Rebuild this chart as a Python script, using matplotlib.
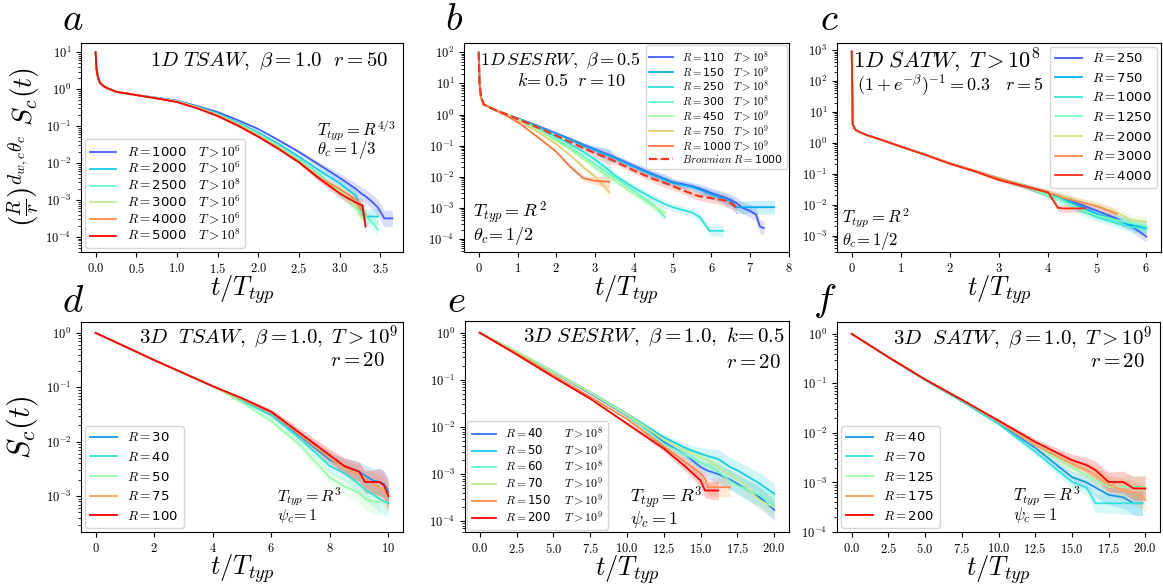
import numpy as np
import matplotlib
matplotlib.use("Agg")
import matplotlib.pyplot as plt
from matplotlib.ticker import FuncFormatter, LogLocator, MultipleLocator, NullFormatter

plt.rcParams['mathtext.fontset'] = 'cm'
plt.rcParams['font.family'] = ['DejaVu Sans']

nan = np.nan

# ------------------------------------------------------------
# DATA  (values are log10 S)
# ------------------------------------------------------------

# panel a : 1D TSAW
a_t = [0, 0.01, 0.03, 0.06, 0.12, 0.25, 0.5, 0.75, 1.0, 1.25, 1.5, 1.75, 2.0,
       2.25, 2.5, 2.75, 3.0, 3.1, 3.2, 3.28, 3.32, 3.4, 3.47, 3.55, 3.65]
a_R = [1000, 2000, 2500, 3000, 4000, 5000]
a_T = [6, 6, 8, 6, 6, 8]
a_logS = [
    [1.0, 0.55, 0.3, 0.15, 0.05, -0.07, -0.16, -0.23, -0.31, -0.46, -0.62, -0.84, -1.08,
     -1.38, -1.7, -2.05, -2.4, -2.55, -2.7, -2.85, -2.9, -3.05, -3.2, -3.5, -3.5],
    [1.0, 0.55, 0.3, 0.15, 0.05, -0.07, -0.16, -0.24, -0.32, -0.48, -0.66, -0.9, -1.17,
     -1.48, -1.83, -2.2, -2.55, -2.72, -2.88, -3.4, -3.45, -3.45, -3.45, nan, nan],
    [1.0, 0.55, 0.3, 0.15, 0.05, -0.07, -0.16, -0.24, -0.33, -0.49, -0.68, -0.93, -1.21,
     -1.53, -1.9, -2.3, -2.8, -2.95, -3.2, -3.35, -3.45, -3.6, -3.8, nan, nan],
    [1.0, 0.55, 0.3, 0.15, 0.05, -0.07, -0.16, -0.24, -0.33, -0.5, -0.7, -0.95, -1.25,
     -1.58, -1.95, -2.38, -2.75, -2.9, -3.2, -3.5, nan, nan, nan, nan, nan],
    [1.0, 0.55, 0.3, 0.15, 0.05, -0.07, -0.16, -0.25, -0.34, -0.51, -0.71, -0.97, -1.27,
     -1.6, -1.97, -2.4, -2.7, -2.85, -3.0, -3.3, -3.4, nan, nan, nan, nan],
    [1.0, 0.55, 0.3, 0.15, 0.05, -0.07, -0.16, -0.25, -0.35, -0.52, -0.73, -0.99, -1.29,
     -1.62, -1.98, -2.42, -2.82, -2.95, -3.07, -3.15, -3.72, nan, nan, nan, nan],
]
a_band = [0, 0, 0, 0, 0, 0, 0, 0, 0, 0, 0, 0.01, 0.02,
          0.03, 0.05, 0.08, 0.12, 0.14, 0.16, 0.18, 0.19, 0.2, 0.22, 0.22, 0.22]

# panel b : 1D SESRW
b_t = [0, 0.02, 0.06, 0.13, 0.4, 0.73, 1.07, 1.6, 2.0, 2.35, 2.7, 3.0, 3.37, 3.5, 4.0,
       4.5, 4.8, 5.0, 5.5, 5.7, 5.95, 6.3, 6.5, 6.65, 6.8, 7.0, 7.15, 7.25, 7.35, 7.62]
b_R = [110, 150, 250, 300, 450, 750, 1000]
b_T = [8, 9, 8, 8, 9, 9, 9]
b_logS = [
    [2.0, 1.0, 0.55, 0.32, 0.16, 0.0, -0.15, -0.4, -0.6, -0.78, -0.97, -1.12, -1.3, -1.37, -1.65,
     -1.92, -2.07, -2.17, -2.3, -2.38, -2.5, -2.65, -2.75, -2.85, -3.0, -3.1, -3.22, -3.6, -3.65, nan],
    [2.0, 1.0, 0.55, 0.32, 0.16, 0.0, -0.16, -0.42, -0.62, -0.8, -1.0, -1.15, -1.33, -1.4, -1.68,
     -1.95, -2.1, -2.2, -2.33, -2.42, -2.55, -2.7, -2.8, -2.98, -2.98, -2.98, -2.98, -2.98, -2.98, -2.98],
    [2.0, 1.0, 0.55, 0.32, 0.16, 0.0, -0.17, -0.48, -0.72, -0.95, -1.2, -1.45, -1.8, -1.95, -2.35,
     -2.7, -2.88, -2.98, -3.15, -3.3, -3.74, -3.74, nan, nan, nan, nan, nan, nan, nan, nan],
    [2.0, 1.0, 0.55, 0.32, 0.16, 0.0, -0.19, -0.52, -0.8, -1.05, -1.33, -1.6, -1.92, -2.02, -2.45,
     -2.9, -3.3, nan, nan, nan, nan, nan, nan, nan, nan, nan, nan, nan, nan, nan],
    [2.0, 1.0, 0.55, 0.32, 0.16, 0.0, -0.2, -0.55, -0.85, -1.12, -1.42, -1.7, -2.02, -2.12, -2.55,
     -2.95, -3.15, nan, nan, nan, nan, nan, nan, nan, nan, nan, nan, nan, nan, nan],
    [2.0, 1.0, 0.55, 0.32, 0.16, -0.02, -0.22, -0.62, -0.95, -1.3, -1.7, -2.0, -2.5, nan, nan,
     nan, nan, nan, nan, nan, nan, nan, nan, nan, nan, nan, nan, nan, nan, nan],
    [2.0, 1.0, 0.55, 0.32, 0.16, -0.05, -0.3, -0.8, -1.2, -1.67, -2.05, -2.13, -2.16, nan, nan,
     nan, nan, nan, nan, nan, nan, nan, nan, nan, nan, nan, nan, nan, nan, nan],
]
b_brown = [2.0, 1.0, 0.55, 0.32, 0.16, 0.0, -0.18, -0.46, -0.68, -0.88, -1.08, -1.24, -1.42, -1.5,
           -1.8, -2.07, -2.2, -2.3, -2.55, -2.63, -2.68, -2.75, -2.85, -3.0,
           nan, nan, nan, nan, nan, nan]
b_band = [0, 0, 0, 0, 0, 0, 0, 0.01, 0.03, 0.05, 0.08, 0.12, 0.2, 0.1, 0.1,
          0.12, 0.15, 0.12, 0.12, 0.14, 0.15, 0.18, 0.18, 0.2, 0.2, 0.2, 0.22, 0.22, 0.22, 0.22]

# panel c : 1D SATW
c_t = [0, 0.02, 0.07, 0.17, 0.31, 0.58, 1.0, 1.5, 2.0, 2.5, 3.0, 3.5, 4.0, 4.2, 4.3,
       4.75, 5.0, 5.4, 5.7, 6.0]
c_R = [250, 750, 1000, 1250, 2000, 3000, 4000]
c_logS = [
    [2.95, 0.6, 0.43, 0.34, 0.25, 0.11, -0.12, -0.38, -0.66, -0.9, -1.15, -1.38, -1.64, -1.72, -1.78,
     -2.05, -2.2, -2.45, -2.7, -3.03],
    [2.95, 0.6, 0.43, 0.34, 0.25, 0.11, -0.12, -0.38, -0.66, -0.9, -1.15, -1.38, -1.66, -1.76, -1.8,
     -2.12, -2.3, -2.5, -2.65, -2.75],
    [2.95, 0.6, 0.43, 0.34, 0.25, 0.11, -0.12, -0.38, -0.66, -0.9, -1.15, -1.38, -1.68, -1.78, -1.85,
     -2.25, -2.4, -2.6, -2.72, -2.8],
    [2.95, 0.6, 0.43, 0.34, 0.25, 0.11, -0.12, -0.38, -0.66, -0.9, -1.15, -1.38, -1.7, -1.8, -1.9,
     -2.2, -2.35, -2.5, -2.6, -2.7],
    [2.95, 0.6, 0.43, 0.34, 0.25, 0.11, -0.12, -0.38, -0.66, -0.9, -1.15, -1.38, -1.6, -1.68, -1.72,
     -1.95, -2.05, -2.25, -2.5, -2.55],
    [2.95, 0.6, 0.43, 0.34, 0.25, 0.11, -0.12, -0.38, -0.66, -0.9, -1.15, -1.38, -1.62, -1.7, -1.78,
     -1.95, -2.05, -2.3, nan, nan],
    [2.95, 0.6, 0.43, 0.34, 0.25, 0.11, -0.12, -0.39, -0.68, -0.92, -1.2, -1.4, -1.6, -2.1, -2.12,
     -2.12, nan, nan, nan, nan],
]
c_band = [0, 0, 0, 0, 0, 0, 0, 0, 0.01, 0.03, 0.05, 0.07, 0.1, 0.11, 0.12,
          0.13, 0.14, 0.15, 0.17, 0.18]

# panel d : 3D TSAW
d_t = [0, 1, 2, 3, 4, 5, 6, 7, 8, 8.5, 9, 9.2, 9.5, 9.7, 9.85, 10]
d_R = [30, 40, 50, 75, 100]
d_logS = [
    [0, -0.25, -0.5, -0.74, -0.98, -1.23, -1.48, -1.9, -2.33, -2.45, -2.55, -2.62, -2.72, -2.74, -2.78, -2.92],
    [0, -0.25, -0.5, -0.74, -0.98, -1.25, -1.52, -1.95, -2.45, -2.58, -2.78, -2.88, -2.98, -3.05, -3.1, -3.13],
    [0, -0.25, -0.5, -0.74, -0.98, -1.28, -1.62, -2.07, -2.66, -2.82, -2.94, -3.05, -3.1, -3.11, nan, nan],
    [0, -0.25, -0.5, -0.74, -0.98, -1.22, -1.47, -1.88, -2.3, -2.48, -2.62, -2.68, -2.78, -2.85, -2.9, -3.05],
    [0, -0.25, -0.5, -0.74, -0.98, -1.2, -1.45, -1.85, -2.25, -2.45, -2.55, -2.74, -2.74, -2.74, -2.8, -3.0],
]
d_band = [0, 0, 0, 0, 0, 0.02, 0.05, 0.08, 0.12, 0.15, 0.18, 0.2, 0.22, 0.25, 0.25, 0.25]

# panel e : 3D SESRW
e_t = [0, 2.5, 5, 7.5, 10, 12.5, 14, 15, 15.3, 15.5, 16.2, 17, 17.5, 19, 20]
e_R = [40, 50, 60, 70, 150, 200]
e_T = [8, 9, 8, 9, 9, 9]
e_logS = [
    [0, -0.41, -0.84, -1.29, -1.76, -2.32, -2.6, -2.85, -2.9, -2.93, -3.0, -3.12, -3.21, -3.49, -3.76],
    [0, -0.4, -0.82, -1.26, -1.72, -2.22, -2.45, -2.57, -2.6, -2.62, -2.68, -2.85, -2.92, -3.2, -3.42],
    [0, -0.4, -0.83, -1.27, -1.75, -2.36, -2.6, -2.75, -2.8, -2.82, -2.95, -3.15, -3.24, -3.45, -3.67],
    [0, -0.4, -0.83, -1.27, -1.73, -2.27, -2.5, -2.64, -2.68, -2.7, -2.85, -3.02, -3.1, -3.56, -3.7],
    [0, -0.44, -0.9, -1.36, -1.83, -2.41, -2.75, -2.99, -3.1, -3.28, -3.28, -3.28, nan, nan, nan],
    [0, -0.46, -0.94, -1.4, -1.93, -2.46, -2.85, -3.14, -3.35, -3.35, -3.35, nan, nan, nan, nan],
]
e_band = [0, 0, 0, 0.01, 0.03, 0.06, 0.1, 0.13, 0.15, 0.17, 0.2, 0.2, 0.2, 0.22, 0.22]

# panel f : 3D SATW
f_t = [0, 2.5, 5, 7.5, 10, 12.5, 15, 16, 16.6, 17.5, 18.5, 19.2, 19.8, 20]
f_R = [40, 70, 125, 175, 200]
f_logS = [
    [0, -0.47, -0.93, -1.35, -1.8, -2.3, -2.89, -3.0, -3.1, -3.25, -3.3, -3.42, -3.42, nan],
    [0, -0.47, -0.93, -1.36, -1.82, -2.38, -2.99, -3.1, -3.42, -3.42, -3.42, -3.42, -3.42, nan],
    [0, -0.47, -0.92, -1.33, -1.77, -2.25, -2.7, -2.85, -2.95, -3.09, -3.09, -3.09, -3.09, -3.09],
    [0, -0.47, -0.92, -1.33, -1.77, -2.25, -2.62, -2.75, -2.85, -3.05, -3.15, -3.2, -3.3, -3.35],
    [0, -0.47, -0.92, -1.33, -1.75, -2.18, -2.55, -2.65, -2.75, -2.99, -2.99, -3.12, -3.12, -3.12],
]
f_band = [0, 0, 0, 0.01, 0.03, 0.06, 0.12, 0.15, 0.18, 0.2, 0.22, 0.24, 0.25, 0.25]


# ------------------------------------------------------------
# HELPERS
# ------------------------------------------------------------

def draw_curves(ax, t, curves, band, cols, labels, **kw):
    t = np.asarray(t, dtype=float)
    band = np.asarray(band, dtype=float)
    for logS, col, lab in zip(curves, cols, labels):
        logS = np.asarray(logS, dtype=float)
        ok = ~np.isnan(logS)
        ax.fill_between(t[ok], 10 ** (logS[ok] - band[ok]), 10 ** (logS[ok] + band[ok]),
                        color=col, alpha=0.2, lw=0)
        ax.plot(t[ok], 10 ** logS[ok], color=col, lw=1.3, label=lab, **kw)


def style_axes(ax, xlim, ylog, xstep, xfmt):
    ax.set_yscale('log')
    ax.set_xlim(*xlim)
    ax.set_ylim(10 ** ylog[0], 10 ** ylog[1])
    ax.yaxis.set_major_locator(LogLocator(base=10, numticks=30))
    ax.yaxis.set_minor_locator(LogLocator(base=10, subs=np.arange(2, 10), numticks=30))
    ax.yaxis.set_minor_formatter(NullFormatter())
    ax.yaxis.set_major_formatter(FuncFormatter(
        lambda v, p: r'$10^{%d}$' % int(round(np.log10(v)))))
    ax.xaxis.set_major_locator(MultipleLocator(xstep))
    ax.xaxis.set_major_formatter(FuncFormatter(lambda v, p: '$' + xfmt % v + '$'))
    ax.tick_params(labelsize=9)
    ax.set_xlabel(r'$t/T_{typ}$', fontsize=19, labelpad=-2)


def px_axes(fig, x, y, w, h):
    W, H = 1163, 587
    return fig.add_axes([x / W, 1 - (y + h) / H, w / W, h / H])


fig = plt.figure(figsize=(11.63, 5.87), dpi=100)
rb = plt.cm.rainbow

# ------------------------------------------------------------
# a
# ------------------------------------------------------------
ax = px_axes(fig, 81, 43, 322, 209)
cols = [rb(v) for v in [0.12, 0.3, 0.45, 0.62, 0.82, 1.0]]
labs = [r'$R=$%d   $T>10^{%d}$' % (r, e) for r, e in zip(a_R, a_T)]
draw_curves(ax, a_t, a_logS, a_band, cols, labs)
style_axes(ax, (-0.18, 3.78), (-4.41, 1.25), 0.5, '%.1f')
ax.set_ylabel(r'$\left(\frac{R}{r}\right)^{d_{w,c}\theta_c}\ S_c(t)$', fontsize=20, labelpad=2)
ax.text(0.955, 0.965, r'$1D\ TSAW,\ \beta=1.0\ \ r=50$', transform=ax.transAxes,
        ha='right', va='top', fontsize=15)
ax.text(0.733, 0.555, r'$T_{typ}=R^{4/3}$', transform=ax.transAxes, fontsize=12)
ax.text(0.733, 0.47, r'$\theta_c=1/3$', transform=ax.transAxes, fontsize=12)
ax.legend(loc='lower left', fontsize=9.5, borderaxespad=0.3, labelspacing=0.05,
          borderpad=0.35)

# ------------------------------------------------------------
# b
# ------------------------------------------------------------
ax = px_axes(fig, 464, 43, 325, 209)
cols = [rb(v) for v in [0.12, 0.24, 0.34, 0.45, 0.57, 0.7, 0.85]]
labs = []
for r, e in zip(b_R, b_T):
    pad = '   ' if r < 1000 else ' '
    labs.append(r'$R=$%d%s$T>10^{%d}$' % (r, pad, e))
draw_curves(ax, b_t, b_logS, b_band, cols, labs)
draw_curves(ax, b_t, [b_brown], b_band, [rb(0.93)], [r'$Brownian\ R=$1000'], ls='--')
ax.lines[-1].set_linewidth(1.6)
style_axes(ax, (-0.38, 8.0), (-4.42, 2.3), 1, '%d')
ax.text(0.05, 0.965, r'$1D\,SESRW,\ \beta=0.5$', transform=ax.transAxes,
        ha='left', va='top', fontsize=13)
ax.text(0.163, 0.86, r'$k\!=0.5\ \ r=10$', transform=ax.transAxes,
        ha='left', va='top', fontsize=13)
ax.text(0.028, 0.167, r'$T_{typ}=R^{\,2}$', transform=ax.transAxes, fontsize=13, va='baseline')
ax.text(0.028, 0.057, r'$\theta_c\!=1/2$', transform=ax.transAxes, fontsize=13, va='baseline')
ax.legend(loc='upper right', fontsize=7.8, borderaxespad=0.2, labelspacing=0.02,
          handlelength=2.2, borderpad=0.35)

# ------------------------------------------------------------
# c
# ------------------------------------------------------------
ax = px_axes(fig, 837, 43, 324, 209)
cols = [rb(v) for v in [0.12, 0.25, 0.36, 0.48, 0.66, 0.82, 0.95]]
labs = [r'$R=$%d' % r for r in c_R]
draw_curves(ax, c_t, c_logS, c_band, cols, labs)
style_axes(ax, (-0.3, 6.3), (-3.53, 3.23), 1, '%d')
ax.text(0.05, 0.985, r'$1D\ SATW,\ T>10^8$', transform=ax.transAxes,
        ha='left', va='top', fontsize=16)
ax.text(0.062, 0.86, r'$(1+e^{-\beta})^{-1}=0.3\quad r=5$', transform=ax.transAxes,
        ha='left', va='top', fontsize=13)
ax.text(0.015, 0.139, r'$T_{typ}=R^2$', transform=ax.transAxes, fontsize=12, va='baseline')
ax.text(0.015, 0.033, r'$\theta_c\!=1/2$', transform=ax.transAxes, fontsize=12, va='baseline')
ax.legend(loc='upper right', fontsize=9.5, borderaxespad=0.3)

# ------------------------------------------------------------
# d
# ------------------------------------------------------------
ax = px_axes(fig, 81, 322, 322, 210)
cols = [rb(v) for v in [0.2, 0.35, 0.55, 0.78, 1.0]]
labs = [r'$R=$%d' % r for r in d_R]
draw_curves(ax, d_t, d_logS, d_band, cols, labs)
style_axes(ax, (-0.5, 10.5), (-3.66, 0.2), 2, '%d')
ax.set_ylabel(r'$S_c(t)$', fontsize=22)
ax.text(0.985, 0.995, r'$3D\ \ TSAW,\ \beta=1.0,\ T>10^9$', transform=ax.transAxes,
        ha='right', va='top', fontsize=15)
ax.text(0.944, 0.865, r'$r=20$', transform=ax.transAxes, ha='right', va='top', fontsize=15)
ax.text(0.609, 0.145, r'$T_{typ}=R^3$', transform=ax.transAxes, fontsize=11.5, va='baseline')
ax.text(0.609, 0.055, r'$\psi_c\!=1$', transform=ax.transAxes, fontsize=11.5, va='baseline')
ax.legend(loc='lower left', fontsize=9.5, borderaxespad=0.3)

# ------------------------------------------------------------
# e
# ------------------------------------------------------------
ax = px_axes(fig, 465, 321, 324, 211)
cols = [rb(v) for v in [0.15, 0.3, 0.45, 0.62, 0.82, 1.0]]
labs = []
for r, e in zip(e_R, e_T):
    pad = '      ' if r < 100 else '    '
    labs.append(r'$R=$%d%s$T>10^{%d}$' % (r, pad, e))
draw_curves(ax, e_t, e_logS, e_band, cols, labs)
style_axes(ax, (-1, 21), (-4.23, 0.25), 2.5, '%.1f')
ax.text(0.988, 0.98, r'$3D\ SESRW,\ \beta=1.0,\ k\!=0.5$', transform=ax.transAxes,
        ha='right', va='top', fontsize=15)
ax.text(0.975, 0.855, r'$r=20$', transform=ax.transAxes, ha='right', va='top', fontsize=15)
ax.text(0.509, 0.14, r'$T_{typ}=R^3$', transform=ax.transAxes, fontsize=13, va='baseline')
ax.text(0.509, 0.04, r'$\psi_c=1$', transform=ax.transAxes, fontsize=13, va='baseline')
ax.legend(loc='lower left', fontsize=8.5, borderaxespad=0.2, labelspacing=0.15)

# ------------------------------------------------------------
# f
# ------------------------------------------------------------
ax = px_axes(fig, 837, 322, 323, 210)
cols = [rb(v) for v in [0.2, 0.35, 0.55, 0.78, 1.0]]
labs = [r'$R=$%d' % r for r in f_R]
draw_curves(ax, f_t, f_logS, f_band, cols, labs)
style_axes(ax, (-1, 21), (-4.0, 0.24), 2.5, '%.1f')
ax.text(0.975, 0.99, r'$3D\ \ SATW,\ \beta=1.0,\ T>10^9$', transform=ax.transAxes,
        ha='right', va='top', fontsize=15)
ax.text(0.954, 0.862, r'$r=20$', transform=ax.transAxes, ha='right', va='top', fontsize=15)
ax.text(0.545, 0.147, r'$T_{typ}=R^3$', transform=ax.transAxes, fontsize=12, va='baseline')
ax.text(0.545, 0.055, r'$\psi_c=1$', transform=ax.transAxes, fontsize=12, va='baseline')
ax.legend(loc='lower left', fontsize=9.5, borderaxespad=0.3)

# panel letters
for lab, x, y in [('a', 62, 30), ('b', 445, 30), ('c', 820, 30),
                  ('d', 62, 312), ('e', 447, 312), ('f', 813, 311)]:
    fig.text(x / 1163, 1 - y / 587, '$' + lab + '$', fontsize=28, va='baseline')

fig.savefig('out.png', dpi=100)
